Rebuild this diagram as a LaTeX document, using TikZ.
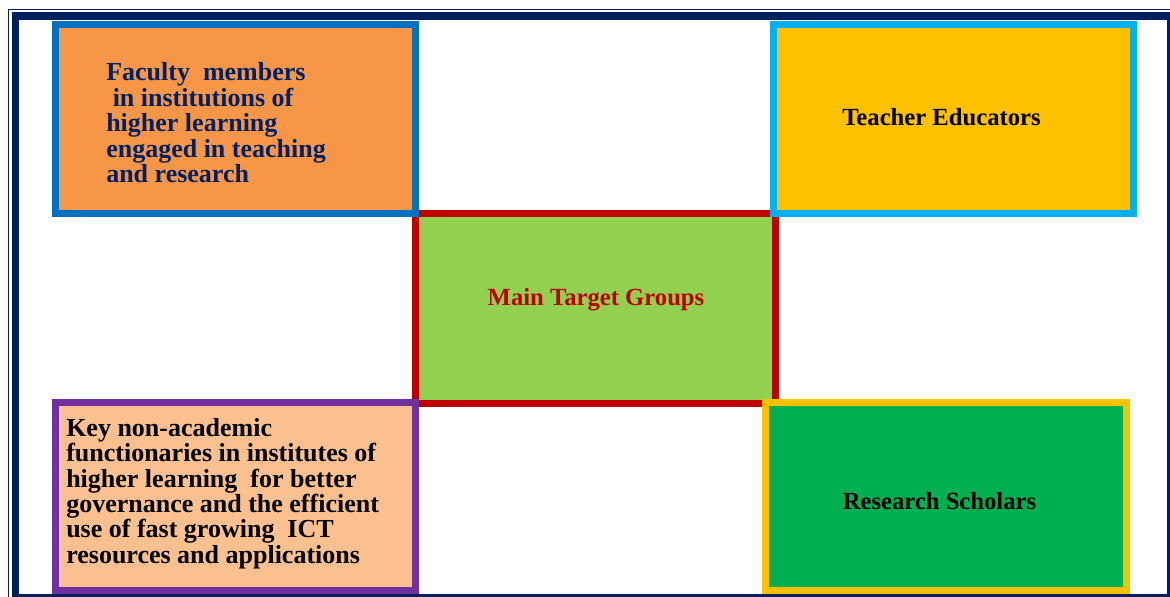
\documentclass[tikz,border=0pt]{standalone}
\usepackage{fontspec}
\setmainfont{Liberation Serif}
\usepackage{xcolor}
\usetikzlibrary{positioning}
\definecolor{frameNavy}{HTML}{002060}
\definecolor{facFill}{HTML}{F79646}
\definecolor{facLine}{HTML}{0070C0}
\definecolor{teachFill}{HTML}{FFC000}
\definecolor{teachLine}{HTML}{00B0F0}
\definecolor{keyFill}{HTML}{FAC090}
\definecolor{keyLine}{HTML}{7030A0}
\definecolor{resFill}{HTML}{00B050}
\definecolor{resLine}{HTML}{FFC000}
\definecolor{mainFill}{HTML}{92D050}
\definecolor{mainLine}{HTML}{C00000}
\tikzset{
  grpbox/.style={draw, rectangle, line width=5.25pt, inner sep=0pt, minimum width=270pt, minimum height=141.75pt},
  grptext/.style={font=\bfseries\fontsize{18.5}{19.2}\selectfont, inner sep=0pt},
  longtext/.style={font=\bfseries\fontsize{19.5}{19.1}\selectfont, align=left, anchor=west, inner sep=0pt},
}

\begin{document}
\begin{tikzpicture}[x=0.75pt,y=0.75pt,yscale=-1]
\useasboundingbox (0,0) rectangle (1170,596);
\clip (0,0) rectangle (1170,596);
% page frame
\draw [frameNavy, line width=1pt] (8.2,9.7) rectangle (1190,620);
\draw [frameNavy, line width=5.7pt] (15.5,16.2) rectangle (1170.5,597.5);
% centre
\node [grpbox, draw=mainLine, fill=mainFill, minimum height=142.5pt] (main) at (595,308.5) {};
% four groups
\node [grpbox, draw=facLine, fill=facFill] (fac) at (235.5,119) {};
\node [grpbox, draw=teachLine, fill=teachFill] (teach) at (953.5,119) {};
\node [grpbox, draw=keyLine, fill=keyFill, minimum height=141pt] (key) at (235.5,496.5) {};
\node [grpbox, draw=resLine, fill=resFill, minimum width=271pt, minimum height=141pt] (res) at (946,496.5) {};
% Text Node
\node [grptext, text=mainLine] (mainT) at (596,299.5) {Main Target Groups};
\node [grptext] (teachT) at (941.5,117.5) {Teacher Educators};
\node [grptext] (resT) at (939.5,501.5) {Research Scholars};
\node [longtext, text=frameNavy] (facT) at (106,123) {Faculty\ \ members\\\hspace{0.25em}in institutions of\\higher learning\\engaged in teaching\\and research};
\node [longtext] (keyT) at (66,493.5) {Key non-academic\\functionaries in institutes of\\higher learning\ \ for better\\governance and the efficient\\use of fast growing\ \ ICT\\resources and applications};
\end{tikzpicture}
\end{document}
